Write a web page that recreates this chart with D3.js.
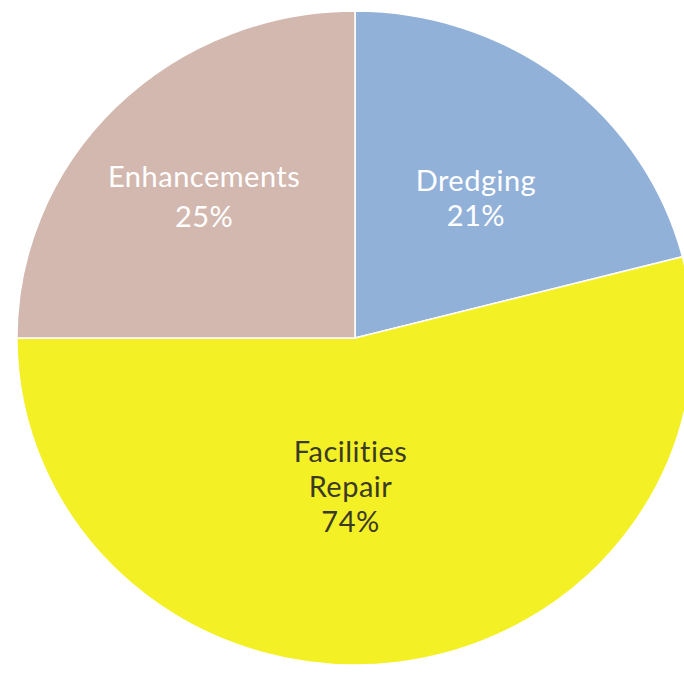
<!DOCTYPE html>
<html>
<head>
    <script src="https://d3js.org/d3.v7.min.js" charset="utf-8"></script>
<style>
    body{
        margin:0;
        background:#fff;
        font-family:Lato, "Open Sans", sans-serif;
    }
    text{
        font-variant-ligatures:none;
    }
</style>
</head>
<body>
    <div id="chart"></div>

  <script>
    // slices as drawn, clockwise from 12 o'clock
    var categories = ["Dredging", "Facilities Repair", "Enhancements"]
    var shares = [21, 54, 25]
    // percentages as printed on the chart
    var printed = ["21%", "74%", "25%"]
    var colors = ["#92b1d9", "#f3f126", "#d3b8b0"]
    var textColors = ["#ffffff", "#3b3a24", "#ffffff"]

    var width = 684, height = 674
    var cx = 355, cy = 338
    var r = 327, stretch = 1.034   // scan is slightly wider than tall

    var svg = d3.select("#chart")
        .append("svg")
        .attr("width", width)
        .attr("height", height)

    var pie = d3.pie().sort(null).value(function(d){ return d })
    var arcs = pie(shares)

    var arc = d3.arc().innerRadius(0).outerRadius(r)

    svg.append("g")
        .attr("transform", "translate(" + cx + "," + cy + ") scale(" + stretch + ",1)")
        .selectAll("path")
        .data(arcs)
        .enter()
        .append("path")
        .attr("d", arc)
        .attr("fill", function(d, i){ return colors[i] })
        .attr("stroke", "#fff")
        .attr("stroke-width", 1.5)

    // label anchors along the mid-angle of each slice, with small nudges
    var labelR = [0.54, 0.46, 0.61]
    var nudgeX = [9, -24, -5]
    var lineH = [35, 35, 40]

    var labels = svg.append("g")
        .selectAll("text")
        .data(arcs)
        .enter()
        .append("text")
        .attr("text-anchor", "middle")
        .attr("font-size", 29)
        .attr("letter-spacing", 0.5)
        .attr("fill", function(d, i){ return textColors[i] })
        .attr("transform", function(d, i){
            var a = (d.startAngle + d.endAngle) / 2
            var x = cx + Math.sin(a) * r * labelR[i] * stretch + nudgeX[i]
            var y = cy - Math.cos(a) * r * labelR[i]
            return "translate(" + x + "," + y + ")"
        })

    labels.each(function(d, i){
        var words = categories[i] == "Facilities Repair" ? ["Facilities", "Repair"] : [categories[i]]
        var lines = words.concat([printed[i]])
        var t = d3.select(this)
        lines.forEach(function(s, j){
            t.append("tspan")
                .attr("x", 0)
                .attr("y", (j - (lines.length - 1) / 2) * lineH[i] + 10)
                .text(s)
        })
    })
  </script>
</body>
</html>
